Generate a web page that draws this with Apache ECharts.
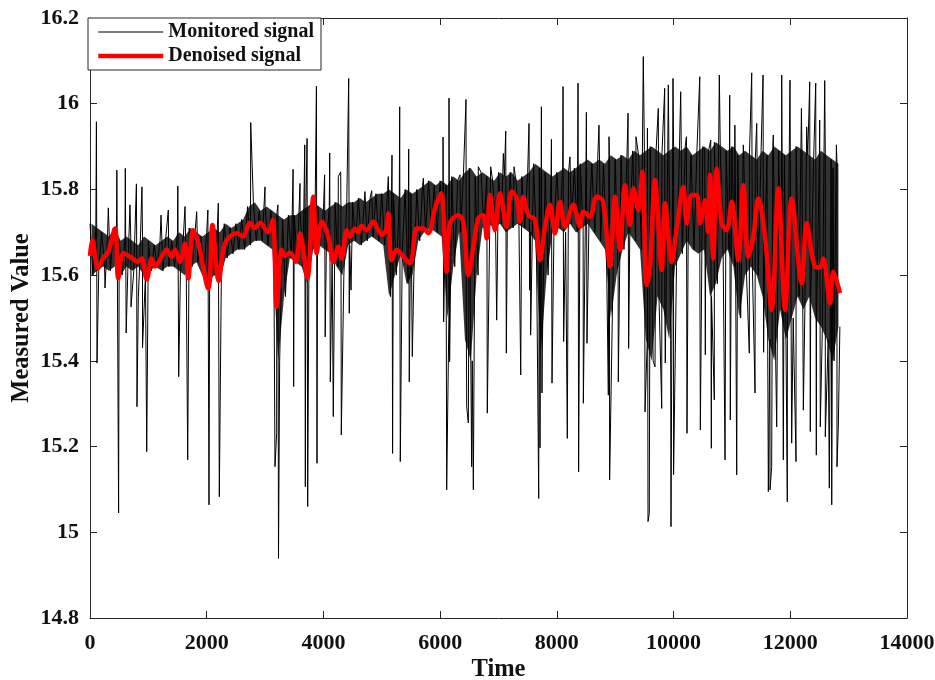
<!DOCTYPE html>
<html><head><meta charset="utf-8">
<script src="https://cdn.jsdelivr.net/npm/echarts@6/dist/echarts.min.js"></script>
<style>html,body{margin:0;padding:0;background:#fff}#c{width:935px;height:680px}</style>
</head><body><div id="c"></div>
<script>
// ---- axis settings ----
const xMin = 0, xMax = 14000, xStep = 2000;
const yMin = 14.8, yMax = 16.2, yStep = 0.2;
const seriesNames = ['Monitored signal', 'Denoised signal'];

// ---- monitored signal: dense band edges read every 100 time units ----
const bandStep = 100;
const bandHi = [
15.72,15.71,15.70,15.69,15.71,15.68,15.69,15.68,15.67,15.69,
15.68,15.67,15.68,15.69,15.68,15.70,15.69,15.71,15.70,15.69,
15.70,15.71,15.70,15.72,15.71,15.72,15.73,15.76,15.77,15.75,
15.76,15.75,15.74,15.73,15.74,15.74,15.75,15.76,15.77,15.76,
15.75,15.76,15.77,15.76,15.77,15.77,15.78,15.77,15.78,15.79,
15.79,15.80,15.79,15.78,15.80,15.79,15.80,15.81,15.82,15.81,
15.82,15.81,15.83,15.82,15.84,15.85,15.83,15.84,15.83,15.82,
15.84,15.83,15.84,15.82,15.83,15.84,15.86,15.85,15.84,15.83,
15.84,15.85,15.84,15.85,15.86,15.87,15.86,15.87,15.86,15.88,
15.87,15.88,15.87,15.89,15.88,15.89,15.90,15.89,15.88,15.89,
15.90,15.89,15.90,15.88,15.89,15.90,15.89,15.91,15.90,15.89,
15.90,15.88,15.89,15.88,15.87,15.89,15.88,15.90,15.89,15.88,
15.89,15.90,15.89,15.88,15.87,15.89,15.88,15.87,15.86];
const bandLo = [
15.60,15.61,15.62,15.61,15.62,15.60,15.62,15.61,15.62,15.60,
15.61,15.62,15.61,15.62,15.62,15.61,15.60,15.62,15.63,15.60,
15.58,15.60,15.59,15.64,15.65,15.66,15.66,15.67,15.68,15.68,
15.67,15.66,15.40,15.55,15.64,15.63,15.62,15.58,15.66,15.67,
15.66,15.65,15.62,15.60,15.67,15.68,15.67,15.68,15.69,15.68,
15.67,15.55,15.60,15.65,15.58,15.60,15.68,15.70,15.71,15.70,
15.69,15.50,15.62,15.70,15.45,15.40,15.60,15.71,15.72,15.71,
15.72,15.70,15.71,15.72,15.71,15.70,15.68,15.42,15.60,15.70,
15.71,15.70,15.72,15.70,15.71,15.72,15.70,15.68,15.66,15.50,
15.60,15.66,15.70,15.68,15.66,15.45,15.40,15.55,15.52,15.45,
15.62,15.65,15.68,15.66,15.65,15.66,15.55,15.58,15.64,15.66,
15.62,15.50,15.60,15.62,15.60,15.55,15.45,15.40,15.52,15.45,
15.50,15.55,15.52,15.55,15.50,15.48,15.45,15.40,15.48];

// ---- monitored signal: isolated spikes (time, value) ----
const spikeTime = [
110,120,257,314,460,490,605,620,685,703,795,805,828,890,900,972,
1217,1342,1505,1520,1628,1674,1828,2020,2039,2199,2216,2754,2999,
3170,3199,3220,3230,3480,3490,3599,3680,3690,3720,3730,3880,3890,
4020,4030,4108,4118,4169,4255,4296,4306,4433,4443,4473,4712,4827,
5112,5175,5185,5307,5317,5461,5471,5523,5712,6050,6060,6112,6152,6162,
6340,6443,6455,6483,6540,6569,6654,6808,6866,6969,7083,7124,7134,7266,
7381,7523,7533,7551,7689,7711,7735,7745,7907,7917,8003,8106,8116,8179,
8225,8363,8373,8454,8506,8516,8722,8882,8894,8904,9053,9220,9230,9356,
9481,9511,9552,9562,9584,9682,9738,9797,9848,9858,9910,9956,9990,10000,
10122,10220,10230,10449,10459,10534,10544,10637,10647,10698,10784,10882,
10962,10972,11050,11082,11195,11298,11339,11396,11425,11533,11543,11624,
11653,11681,11709,11767,11853,11881,11949,11995,12024,12098,12191,12224,
12281,12333,12343,12436,12446,12504,12514,12590,12600,12669,12710,12732,
12790,12800,12823];
const spikeValue = [
15.958,15.395,15.57,15.757,15.845,15.045,15.849,15.465,15.764,15.526,15.813,15.293,15.547,15.806,15.43,15.188,
15.74,15.752,15.808,15.363,15.76,15.169,15.748,15.752,15.064,15.768,15.083,15.956,15.806,
15.153,15.232,15.764,14.939,15.847,15.34,15.814,15.904,15.106,15.919,15.06,16.041,15.161,
15.834,15.456,15.885,15.351,15.27,15.83,15.841,15.227,16.059,15.511,15.565,15.795,15.797,
15.83,15.88,15.184,15.993,15.165,15.894,15.351,15.41,15.826,15.922,15.491,15.099,16.013,15.398,
15.834,16.01,15.293,15.255,15.153,15.099,15.853,15.278,15.853,15.495,15.884,15.936,15.418,15.853,
15.367,15.954,15.565,15.46,15.079,15.197,15.993,15.325,15.917,15.348,15.84,16.04,15.445,15.219,
15.876,16.048,15.141,15.301,15.98,15.441,15.95,15.32,15.923,15.122,15.351,15.978,15.429,15.923,
16.11,15.281,15.943,15.025,15.044,15.386,15.989,15.289,16.036,15.395,16.044,15.013,16.059,15.134,
16.028,15.923,15.231,16.063,15.239,15.892,15.414,15.915,15.196,15.309,16.067,15.169,
16.02,15.262,15.95,15.134,15.904,15.418,16.072,15.325,15.954,16.067,15.42,15.095,
15.099,15.153,15.927,15.246,16.067,15.169,15.071,16.055,15.208,15.165,15.989,15.285,
15.946,16.051,15.235,16.048,15.18,15.962,15.246,16.054,15.223,15.103,15.064,15.85,
15.904,15.153,15.246];

// ---- denoised signal (time, value) ----
const redTime = [
0,40,137,228,314,428,485,571,685,828,886,972,1057,1114,1229,1314,1400,1457,1542,1628,1685,1765,1851,
2027,2099,2205,2313,2514,2622,2742,2827,2913,3050,3131,3199,3285,3342,3427,3530,3599,3724,3827,3885,3970,
4084,4169,4255,4313,4399,4455,4541,4598,4656,4742,4855,4941,4998,5072,5112,5170,5256,5341,5484,5598,5706,
5797,5912,6015,6112,6169,6311,6397,6483,6563,6654,6735,6798,6854,6940,7026,7140,7226,7312,7369,7425,7511,
7626,7711,7797,7883,7968,8054,8140,8282,8397,8454,8568,8683,8791,8911,8996,9082,9168,9253,9310,9396,9464,
9540,9597,9682,9797,9853,9968,10054,10167,10225,10311,10397,10454,10539,10590,10624,10681,10739,10825,10910,
10996,11109,11195,11281,11366,11452,11567,11681,11795,11910,12024,12196,12281,12424,12509,12566,12681,12737,12852];
const redValue = [
15.645,15.682,15.616,15.64,15.655,15.709,15.593,15.651,15.643,15.631,15.639,15.59,15.639,15.62,15.643,15.659,15.643,15.659,15.631,15.674,15.593,15.705,15.678,
15.569,15.717,15.587,15.674,15.698,15.69,15.722,15.71,15.722,15.70,15.729,15.526,15.659,15.645,15.652,15.631,15.698,15.593,15.783,15.651,15.725,
15.69,15.631,15.666,15.639,15.705,15.69,15.709,15.70,15.715,15.705,15.725,15.705,15.694,15.705,15.744,15.635,15.659,15.648,15.628,15.709,15.709,
15.698,15.756,15.791,15.608,15.721,15.74,15.725,15.60,15.66,15.733,15.74,15.686,15.787,15.705,15.791,15.713,15.795,15.78,15.725,15.783,15.74,
15.729,15.635,15.713,15.764,15.698,15.771,15.713,15.764,15.713,15.748,15.736,15.783,15.773,15.62,15.783,15.659,15.81,15.717,15.803,15.752,15.841,
15.577,15.62,15.822,15.612,15.768,15.631,15.71,15.806,15.721,15.787,15.787,15.721,15.775,15.70,15.834,15.639,15.849,15.721,15.705,
15.771,15.635,15.81,15.643,15.69,15.779,15.69,15.519,15.803,15.519,15.779,15.581,15.721,15.62,15.618,15.639,15.534,15.608,15.558];

// ---- build series data ----
const monData = [];
for (let i = 0; i < bandHi.length; i++) {
  monData.push([i * bandStep, bandHi[i]]);
  monData.push([i * bandStep + bandStep / 2, bandLo[i]]);
}
for (let i = 0; i < spikeTime.length; i++) monData.push([spikeTime[i], spikeValue[i]]);
monData.sort((a, b) => a[0] - b[0]);
const redData = redTime.map((t, i) => [t, redValue[i]]);

const FONT = "'Liberation Serif','Times New Roman',serif";
const AX = '#262626';
const chart = echarts.init(document.getElementById('c'), null, {renderer: 'canvas'});
const baseX = {type: 'value', min: xMin, max: xMax, interval: xStep, splitLine: {show: false},
  axisLine: {show: true, onZero: false, lineStyle: {color: AX, width: 1}},
  axisTick: {show: true, inside: true, length: 7, lineStyle: {color: AX}}};
const baseY = {type: 'value', min: yMin, max: yMax, interval: yStep, splitLine: {show: false},
  axisLine: {show: true, onZero: false, lineStyle: {color: AX, width: 1}},
  axisTick: {show: true, inside: true, length: 7, lineStyle: {color: AX}}};
chart.setOption({
  animation: false,
  backgroundColor: '#fff',
  grid: {left: 90, right: 28, top: 18, bottom: 62, containLabel: false, outerBoundsMode: 'none'},
  xAxis: [
    Object.assign({}, baseX, {position: 'bottom',
      axisLabel: {fontFamily: FONT, fontWeight: 'bold', fontSize: 22, color: '#111', margin: 14,
        formatter: v => String(v)},
      name: 'Time', nameLocation: 'middle', nameGap: 39, nameMoveOverlap: false,
      nameTextStyle: {fontFamily: FONT, fontWeight: 'bold', fontSize: 24.5, color: '#111'}}),
    Object.assign({}, baseX, {position: 'top', axisLabel: {show: false}})
  ],
  yAxis: [
    Object.assign({}, baseY, {position: 'left',
      axisLabel: {fontFamily: FONT, fontWeight: 'bold', fontSize: 22, color: '#111', margin: 11},
      name: 'Measured Value', nameLocation: 'middle', nameGap: 56, nameMoveOverlap: false,
      nameTextStyle: {fontFamily: FONT, fontWeight: 'bold', fontSize: 24.5, color: '#111'}}),
    Object.assign({}, baseY, {position: 'right', axisLabel: {show: false}})
  ],
  legend: {
    orient: 'vertical', left: 88, top: 18, itemWidth: 65, itemHeight: 14, itemGap: 4,
    padding: [4, 7, 4, 8], borderColor: AX, borderWidth: 1, backgroundColor: '#fff',
    textStyle: {fontFamily: FONT, fontWeight: 'bold', fontSize: 20, color: '#111'},
    itemStyle: {color: 'transparent', borderColor: 'transparent', borderWidth: 0, opacity: 0},
    data: [
      {name: seriesNames[0], lineStyle: {color: '#000', width: 1}},
      {name: seriesNames[1], lineStyle: {color: '#ff0000', width: 4.5}}
    ],
    z: 10
  },
  series: [
    {name: 'band', type: 'custom', silent: true, z: 1, clip: true, data: [[0, 0]],
      renderItem: function (params, api) {
        if (params.dataIndex !== 0) return null;
        const pts = [];
        for (let i = 0; i < bandHi.length; i++) pts.push(api.coord([i * bandStep + bandStep / 4, bandHi[i]]));
        for (let i = bandLo.length - 1; i >= 0; i--) pts.push(api.coord([i * bandStep + bandStep / 4, bandLo[i]]));
        return {type: 'polygon', shape: {points: pts}, style: {fill: '#000', opacity: 0.8}};
      }},
    {name: seriesNames[0], type: 'line', xAxisIndex: 0, yAxisIndex: 0, data: monData,
      symbol: 'none', showSymbol: false, z: 2,
      lineStyle: {color: '#000', width: 1}, itemStyle: {color: '#000'}},
    {name: seriesNames[1], type: 'line', xAxisIndex: 0, yAxisIndex: 0, data: redData,
      symbol: 'none', showSymbol: false, smooth: 0.35, z: 3,
      lineStyle: {color: '#ff0000', width: 4.5}, itemStyle: {color: '#ff0000'}}
  ]
});
</script></body></html>
